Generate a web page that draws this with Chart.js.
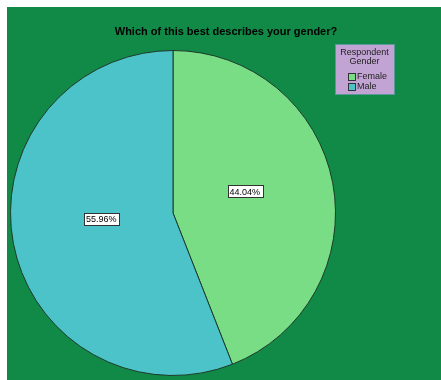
<!DOCTYPE html>
<html>
<head>
<meta charset="utf-8">
<script src="https://cdn.jsdelivr.net/npm/chart.js@4/dist/chart.umd.min.js"></script>
<style>
  body { margin: 0; background: #fff; }
  #frame { position: absolute; left: 7px; top: 7px; width: 434px; height: 373px; background: #118a47; }
  canvas { display: block; }
</style>
</head>
<body>
<div id="frame"><canvas id="chart" width="434" height="373"></canvas></div>
<script>
// data
const categories = ["Female", "Male"];
const percents = [44.04, 55.96];
const sliceColors = ["#79dd86", "#4bc3c8"];
const titleText = "Which of this best describes your gender?";
const legendTitle = ["Respondent", "Gender"];

const ctx = document.querySelector("#chart");

// draws title, legend box and percent labels
const extras = {
    id: "extras",
    afterDraw(chart){
        const c = chart.ctx;
        c.save();
        // title
        c.fillStyle = "#000";
        c.font = "bold 11px 'Liberation Sans', Arial, sans-serif";
        c.textAlign = "center";
        c.textBaseline = "middle";
        c.fillText(titleText, 219, 25);

        // legend
        c.fillStyle = "#c2a4d4";
        c.strokeStyle = "#5a9a9a";
        c.lineWidth = 1;
        c.fillRect(328, 37, 59, 50);
        c.strokeRect(328.5, 37.5, 59, 50);
        c.fillStyle = "#222";
        c.font = "9px 'Liberation Sans', Arial, sans-serif";
        legendTitle.forEach((t, i) => c.fillText(t, 357.5, 46 + i * 9));
        c.textAlign = "left";
        categories.forEach((name, i) => {
            const y = 70 + i * 10;
            c.fillStyle = sliceColors[i];
            c.fillRect(341, y - 4, 7, 7);
            c.strokeStyle = "#333";
            c.strokeRect(341.5, y - 3.5, 7, 7);
            c.fillStyle = "#222";
            c.fillText(name, 350, y);
        });

        // percent labels
        const meta = chart.getDatasetMeta(0);
        meta.data.forEach((arc, i) => {
            const p = arc.getProps(["x", "y", "startAngle", "endAngle", "outerRadius"], true);
            const mid = (p.startAngle + p.endAngle) / 2;
            const r = p.outerRadius * 0.45;
            const x = p.x + Math.cos(mid) * r;
            const y = p.y + Math.sin(mid) * r - 8;
            const txt = percents[i].toFixed(2) + "%";
            c.font = "9px 'Liberation Sans', Arial, sans-serif";
            const w = c.measureText(txt).width + 4;
            c.fillStyle = "#fff";
            c.fillRect(Math.round(x - w / 2), Math.round(y - 6), Math.round(w), 12);
            c.strokeStyle = "#333";
            c.strokeRect(Math.round(x - w / 2) + 0.5, Math.round(y - 6) + 0.5, Math.round(w), 12);
            c.fillStyle = "#000";
            c.textAlign = "center";
            c.fillText(txt, x, y + 1);
        });
        c.restore();
    }
};

const chart = new Chart(ctx, {
    type: "pie",
    data: {
        labels: categories,
        datasets: [{
            data: percents,
            backgroundColor: sliceColors,
            borderColor: "#1e3a2a",
            borderWidth: 1
        }]
    },
    options: {
        responsive: false,
        animation: false,
        layout: {
            padding: { left: 3, top: 43, right: 105, bottom: 4 }
        },
        plugins: {
            legend: { display: false },
            tooltip: { enabled: false }
        }
    },
    plugins: [extras]
});
</script>
</body>
</html>
